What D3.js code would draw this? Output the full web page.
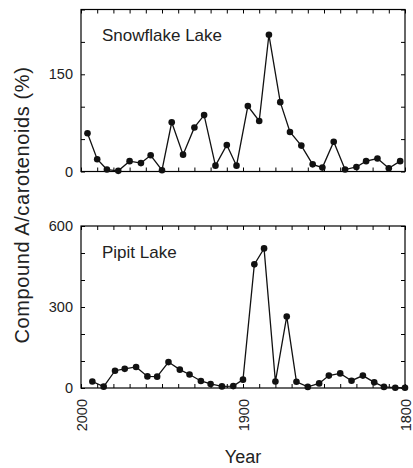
<!DOCTYPE html>
<html>
<head>
<meta charset="utf-8">
<script src="https://cdn.jsdelivr.net/npm/d3@7"></script>
<style>
  body { margin: 0; background: #fff; }
  svg { display: block; font-family: "Liberation Sans", Arial, sans-serif; }
  .tick text { fill: #222; font-size: 14.5px; }
  .tick line { stroke: #000; }
  .domain { display: none; }
</style>
</head>
<body>
<svg width="413" height="468"></svg>
<script>
var svg = d3.select('svg');

// Snowflake Lake
var snowYears = [1996, 1990, 1984, 1977, 1970, 1963, 1957, 1950, 1944, 1937,
                 1930, 1924, 1917, 1910, 1904, 1897, 1890, 1884, 1877, 1871,
                 1864, 1857, 1851, 1844, 1837, 1830, 1824, 1817, 1810, 1803];
var snowValues = [59, 19, 3, 1, 16, 13, 25, 2, 76, 26,
                  68, 87, 9, 41, 9, 101, 78, 211, 107, 61,
                  40, 11, 6, 46, 3, 7, 16, 20, 5, 16];

// Pipit Lake
var pipitYears = [1993, 1986, 1979, 1973, 1966, 1959, 1953, 1946, 1939, 1933,
                  1926, 1920, 1913, 1906, 1900, 1893, 1887, 1880, 1873, 1867,
                  1860, 1853, 1847, 1840, 1833, 1826, 1819, 1813, 1806, 1800];
var pipitValues = [24, 5, 64, 71, 78, 43, 42, 96, 68, 50,
                   26, 15, 6, 7, 31, 458, 517, 24, 265, 23,
                   4, 17, 46, 54, 27, 46, 21, 4, 1, 1];

var xTicks = d3.range(2000, 1799, -10);
var xLabels = [2000, 1900, 1800];
var snowTicks = [0, 50, 100, 150, 200, 250];
var snowLabels = [0, 150];
var pipitTicks = [0, 100, 200, 300, 400, 500, 600];
var pipitLabels = [0, 300, 600];

var left = 81, right = 405;

var x = d3.scaleLinear().domain([2000, 1800]).range([left, right]);

var panels = [
  {name: 'Snowflake Lake', years: snowYears, values: snowValues, max: 250,
   top: 9.5, bottom: 171.5, ticks: snowTicks, labels: snowLabels, showX: false},
  {name: 'Pipit Lake', years: pipitYears, values: pipitValues, max: 600,
   top: 226, bottom: 388, ticks: pipitTicks, labels: pipitLabels, showX: true}
];

panels.forEach(function(p) {
  var y = d3.scaleLinear().domain([0, p.max]).range([p.bottom, p.top]);
  var fmt = function(d) { return p.labels.indexOf(d) >= 0 ? d : ''; };

  svg.append('g')
    .attr('transform', 'translate(' + left + ',0)')
    .call(d3.axisLeft(y).tickValues(p.ticks).tickFormat(fmt).tickSize(-4).tickSizeOuter(0).tickPadding(8));

  svg.append('g')
    .attr('transform', 'translate(' + right + ',0)')
    .call(d3.axisRight(y).tickValues(p.ticks).tickFormat('').tickSize(-4).tickSizeOuter(0));

  svg.append('g')
    .attr('transform', 'translate(0,' + p.top + ')')
    .call(d3.axisTop(x).tickValues(xTicks).tickFormat('').tickSize(-4).tickSizeOuter(0));

  var xb = svg.append('g')
    .attr('transform', 'translate(0,' + p.bottom + ')')
    .call(d3.axisBottom(x).tickValues(xTicks)
      .tickFormat(function(d) { return p.showX && xLabels.indexOf(d) >= 0 ? d : ''; })
      .tickSize(-4).tickSizeOuter(0));

  if (p.showX) {
    xb.selectAll('.tick text')
      .attr('transform', 'rotate(-90)')
      .attr('text-anchor', 'end')
      .attr('x', -11)
      .attr('y', 0)
      .attr('dy', '0.36em');
  }

  svg.append('rect')
    .attr('x', left).attr('y', p.top)
    .attr('width', right - left).attr('height', p.bottom - p.top)
    .attr('fill', 'none').attr('stroke', '#000').attr('stroke-width', 1.2);

  var pts = p.years.map(function(d, i) { return [d, p.values[i]]; });

  svg.append('path')
    .datum(pts)
    .attr('fill', 'none')
    .attr('stroke', '#111')
    .attr('stroke-width', 1.3)
    .attr('d', d3.line().x(function(d) { return x(d[0]); }).y(function(d) { return y(d[1]); }));

  svg.append('g').selectAll('circle')
    .data(pts)
    .join('circle')
    .attr('cx', function(d) { return x(d[0]); })
    .attr('cy', function(d) { return y(d[1]); })
    .attr('r', 3.3)
    .attr('fill', '#111');

  svg.append('text')
    .attr('x', 102)
    .attr('y', p.top + 31.5)
    .attr('font-size', 17)
    .attr('fill', '#222')
    .text(p.name);
});

svg.append('text')
  .attr('transform', 'translate(29,205) rotate(-90)')
  .attr('text-anchor', 'middle')
  .attr('font-size', 20)
  .attr('letter-spacing', 0.6)
  .attr('fill', '#222')
  .text('Compound A/carotenoids (%)');

svg.append('text')
  .attr('x', 243)
  .attr('y', 463)
  .attr('text-anchor', 'middle')
  .attr('font-size', 18)
  .attr('fill', '#222')
  .text('Year');
</script>
</body>
</html>
